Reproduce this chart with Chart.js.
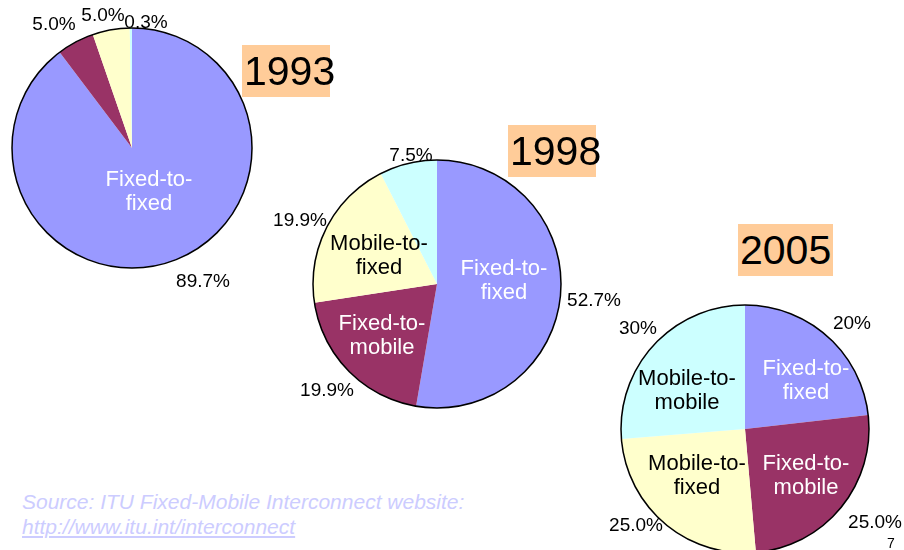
<!DOCTYPE html>
<html>
<head>
<meta charset="utf-8">
<script src="https://cdn.jsdelivr.net/npm/chart.js@4"></script>
<style>
  html, body { margin: 0; padding: 0; background: #fff; overflow: hidden; }
  body { width: 904px; height: 550px; position: relative; font-family: "Liberation Sans", Arial, sans-serif; }
  canvas { position: absolute; }
  .lbl { position: absolute; transform: translate(-50%, -50%); white-space: nowrap; text-align: center; line-height: 24px; }
  .year { position: absolute; background: #FFCC99; height: 52px; line-height: 52px; font-size: 41px; color: #000; white-space: nowrap; padding-left: 2px; box-sizing: border-box; }
  .src { position: absolute; left: 22px; font-style: italic; font-size: 21px; color: #CCCCFF; white-space: nowrap; }
</style>
</head>
<body>
<canvas id="pie1993" width="244" height="244" style="left:10px;top:26px"></canvas>
<canvas id="pie1998" width="252" height="252" style="left:311px;top:158px"></canvas>
<canvas id="pie2005" width="252" height="252" style="left:619px;top:303px"></canvas>

<div class="year" style="left:242px;top:45px;width:88px">1993</div>
<div class="year" style="left:508px;top:125px;width:88px">1998</div>
<div class="year" style="left:738px;top:224px;width:95px">2005</div>

<div class="src" style="top:490px">Source: ITU Fixed-Mobile Interconnect website:</div>
<div class="src" style="top:515px;text-decoration:underline">http://www.itu.int/interconnect</div>

<script>
// données
var categorias = ['Fixed-to-fixed', 'Fixed-to-mobile', 'Mobile-to-fixed', 'Mobile-to-mobile'];
var cores = ['#9999FF', '#993366', '#FFFFCC', '#CCFFFF'];
var valores1993 = [89.7, 5.0, 5.0, 0.3];
var valores1998 = [52.7, 19.9, 19.9, 7.5];
var valores2005 = [23.2, 25.4, 25.1, 26.3]; // como desenhado
var rotulos1993 = ['89.7%', '5.0%', '5.0%', '0.3%'];
var rotulos1998 = ['52.7%', '19.9%', '19.9%', '7.5%'];
var rotulos2005 = ['20%', '25.0%', '25.0%', '30%'];

// contorno preto do círculo
var contorno = {
    id: 'contorno',
    afterDatasetsDraw: function (chart) {
        var arco = chart.getDatasetMeta(0).data[0];
        var ctx = chart.ctx;
        ctx.save();
        ctx.beginPath();
        ctx.arc(arco.x, arco.y, arco.outerRadius, 0, Math.PI * 2);
        ctx.lineWidth = 1.5;
        ctx.strokeStyle = '#000';
        ctx.stroke();
        ctx.restore();
    }
};

function criarPizza(id, valores) {
    var ctx = document.getElementById(id).getContext('2d');
    return new Chart(ctx, {
        type: 'pie',
        data: {
            labels: categorias,
            datasets: [{
                data: valores,
                backgroundColor: cores,
                borderWidth: 0
            }]
        },
        options: {
            responsive: false,
            animation: false,
            layout: { padding: 2 },
            plugins: { legend: { display: false }, tooltip: { enabled: false } }
        },
        plugins: [contorno]
    });
}

criarPizza('pie1993', valores1993);
criarPizza('pie1998', valores1998);
criarPizza('pie2005', valores2005);

// rótulos
function rotulo(texto, x, y, cor, tamanho) {
    var d = document.createElement('div');
    d.className = 'lbl';
    d.innerHTML = texto;
    d.style.left = x + 'px';
    d.style.top = y + 'px';
    d.style.color = cor || '#000';
    d.style.fontSize = (tamanho || 19) + 'px';
    document.body.appendChild(d);
}

// 1993
rotulo('Fixed-to-<br>fixed', 149, 191, '#fff', 22);
rotulo(rotulos1993[0], 203, 281);
rotulo(rotulos1993[1], 54, 24);
rotulo(rotulos1993[2], 103, 15);
rotulo(rotulos1993[3], 146, 22);

// 1998
rotulo('Fixed-to-<br>fixed', 504, 280, '#fff', 22);
rotulo('Fixed-to-<br>mobile', 382, 335, '#fff', 22);
rotulo('Mobile-to-<br>fixed', 379, 255, '#000', 22);
rotulo(rotulos1998[0], 594, 300);
rotulo(rotulos1998[1], 327, 390);
rotulo(rotulos1998[2], 300, 220);
rotulo(rotulos1998[3], 411, 155);

// 2005
rotulo('Fixed-to-<br>fixed', 806, 380, '#fff', 22);
rotulo('Fixed-to-<br>mobile', 806, 475, '#fff', 22);
rotulo('Mobile-to-<br>fixed', 697, 475, '#000', 22);
rotulo('Mobile-to-<br>mobile', 687, 390, '#000', 22);
rotulo(rotulos2005[0], 852, 323);
rotulo(rotulos2005[1], 875, 522);
rotulo(rotulos2005[2], 636, 525);
rotulo(rotulos2005[3], 638, 328);

rotulo('7', 891, 543, '#000', 14);
</script>
</body>
</html>
